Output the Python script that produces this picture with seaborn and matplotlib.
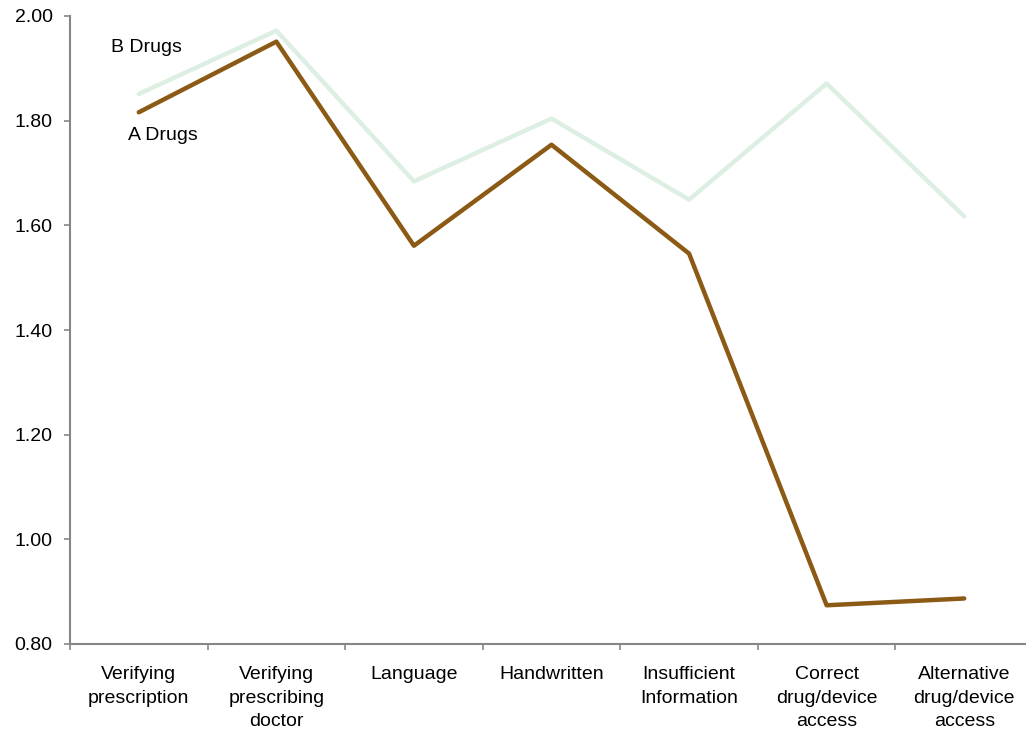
import matplotlib
matplotlib.use("Agg")
import matplotlib.pyplot as plt
import seaborn as sns
import pandas as pd
from matplotlib.ticker import FixedLocator, FormatStrFormatter

categories = [
    "Verifying\nprescription",
    "Verifying\nprescribing\ndoctor",
    "Language",
    "Handwritten",
    "Insufficient\nInformation",
    "Correct\ndrug/device\naccess",
    "Alternative\ndrug/device\naccess",
]
a_drugs = [1.816, 1.951, 1.561, 1.754, 1.546, 0.874, 0.887]
b_drugs = [1.851, 1.972, 1.684, 1.804, 1.649, 1.871, 1.617]
series_names = ["A Drugs", "B Drugs"]

rows = []
for name, vals in zip(series_names, [a_drugs, b_drugs]):
    for i, v in enumerate(vals):
        rows.append({"pos": i, "value": v, "series": name})
df = pd.DataFrame(rows)

sns.set_theme(style="white")
plt.rcParams["font.family"] = ["Liberation Sans", "DejaVu Sans"]

FS = 14

fig = plt.figure(figsize=(10.26, 7.34), dpi=100)
ax = fig.add_axes([70 / 1026, 90 / 734, 963 / 1026, 628 / 734])

palette = {"A Drugs": "#8B5A14", "B Drugs": "#DDEFE3"}
sns.lineplot(data=df, x="pos", y="value", hue="series",
             hue_order=["B Drugs", "A Drugs"], palette=palette,
             linewidth=3.2, ax=ax, legend=False, sort=False)

ax.set_xlim(-0.5, len(categories) - 0.5)
ax.set_ylim(0.8, 2.0)
ax.set_xlabel("")
ax.set_ylabel("")

# category labels at centers, tick marks at the boundaries between them
ax.xaxis.set_major_locator(FixedLocator(range(len(categories))))
ax.set_xticklabels(categories, fontsize=FS, color="black", linespacing=1.5)
ax.xaxis.set_minor_locator(FixedLocator([i - 0.5 for i in range(len(categories) + 1)]))
ax.tick_params(axis="x", which="major", length=0, pad=16)
ax.tick_params(axis="x", which="minor", bottom=True, length=4, width=1.2, color="#868686")

ax.set_yticks([0.8, 1.0, 1.2, 1.4, 1.6, 1.8, 2.0])
ax.yaxis.set_major_formatter(FormatStrFormatter("%.2f"))
ax.tick_params(axis="y", left=True, length=4.5, width=1.2, color="#868686",
               labelsize=FS, labelcolor="black", pad=8)

for side in ["top", "right"]:
    ax.spines[side].set_visible(False)
for side in ["left", "bottom"]:
    ax.spines[side].set_color("#868686")
    ax.spines[side].set_linewidth(1.5)

ax.text(-0.2, 1.939, "B Drugs", fontsize=FS, va="center", ha="left", color="black")
ax.text(-0.08, 1.772, "A Drugs", fontsize=FS, va="center", ha="left", color="black")

fig.savefig("out.png", dpi=100)
